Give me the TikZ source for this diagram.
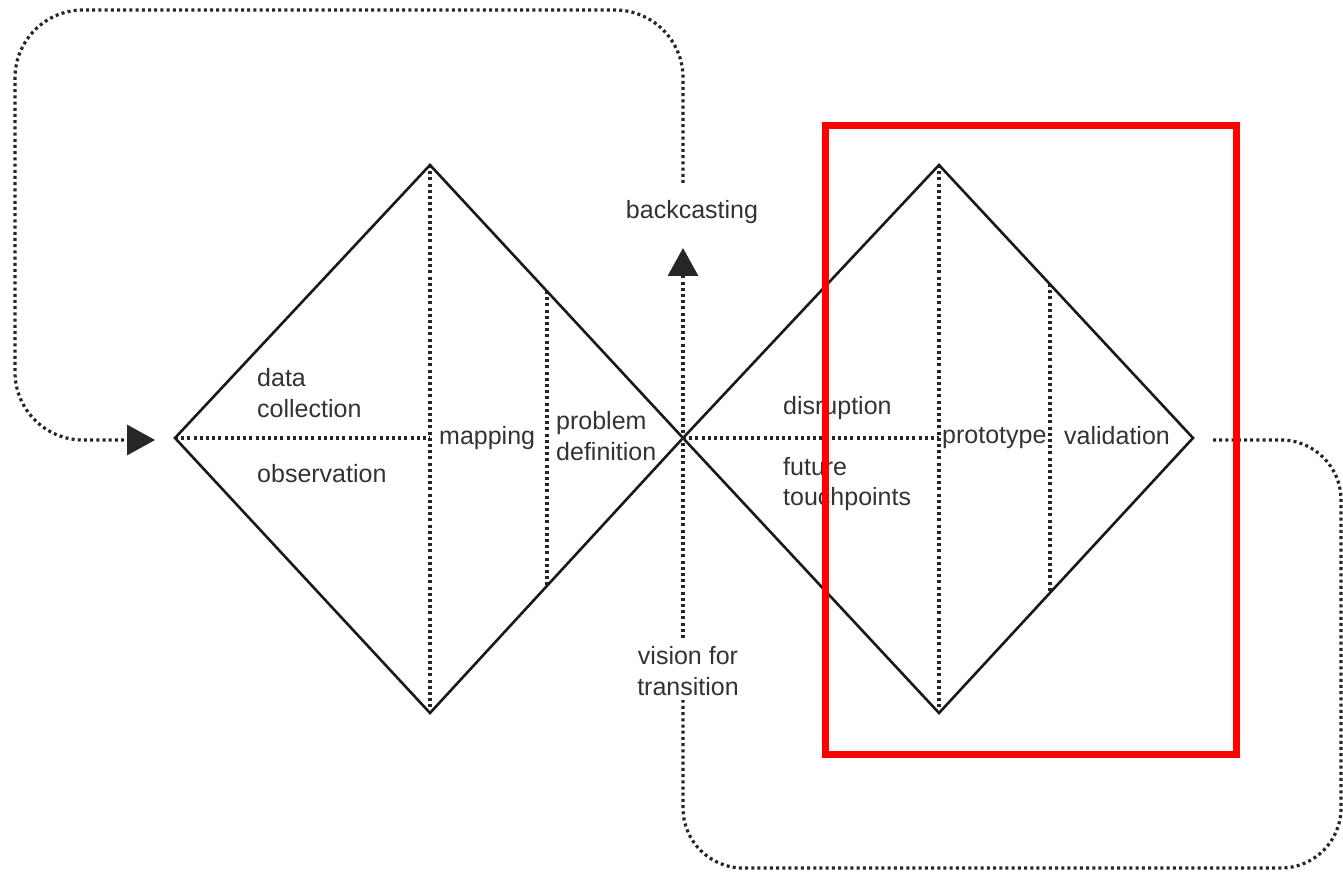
\documentclass[tikz,border=0pt]{standalone}
\usepackage{fontspec}
\setmainfont{Liberation Sans}
\usetikzlibrary{arrows.meta}
\begin{document}
\begin{tikzpicture}[x=1pt,y=-1pt,
  dotline/.style={line width=3.2pt, dash pattern=on 3pt off 3.2pt, draw=black!85},
  diaedge/.style={line width=2.6pt, line join=miter, draw=black!90},
  lbl/.style={inner sep=0pt, font=\fontsize{25}{30.5}\selectfont, text=black!80, align=left},
  arrowhead/.style={-{Triangle[length=28pt,width=30pt]}},
]
\useasboundingbox (0,0) rectangle (1343,874);
\fill[white] (0,0) rectangle (1343,874);

% diamond vertices
\coordinate (Al) at (175,438);
\coordinate (At) at (430,165);
\coordinate (Ab) at (430,713);
\coordinate (C)  at (683,438);
\coordinate (Bt) at (939,165);
\coordinate (Bb) at (939,713);
\coordinate (Br) at (1193,438);

% inner dotted lines
\coordinate (A2t) at (547,291);
\coordinate (A2b) at (547,585);
\coordinate (B2t) at (1050,284);
\coordinate (B2b) at (1050,592);
\coordinate (Am) at (430,438);
\coordinate (Bm) at (939,438);

\draw[dotline] (At) -- (Ab);
\draw[dotline] (A2t) -- (A2b);
\draw[dotline] (Bt) -- (Bb);
\draw[dotline] (B2t) -- (B2b);
\draw[dotline] (Al) -- (Am);
\draw[dotline] (C) -- (Bm);

% diamonds
\draw[diaedge] (Al) -- (At) -- (C) -- (Ab) -- cycle;
\draw[diaedge] (C) -- (Bt) -- (Br) -- (Bb) -- cycle;

% labels
\node[lbl, anchor=west] (dc) at (257,393) {data\\collection};
\node[lbl, anchor=west] (obs) at (257,474) {observation};
\node[lbl, anchor=west] (map) at (439,438) {mapping};
\node[lbl, anchor=west] (pd) at (556,436) {problem\\definition};
\node[lbl, align=center] (bc) at (692,212) {backcasting};
\node[lbl, anchor=west] (dis) at (783,408) {disruption};
\node[lbl, anchor=west] (ft) at (783,484) {future\\touchpoints};
\node[lbl, anchor=west] (proto) at (942,438) {prototype};
\node[lbl, anchor=west] (val) at (1064,436) {validation};
\node[lbl, align=center] (vis) at (688,671) {vision for\\transition};

% central vertical arrow
\coordinate (upTip) at (683,248);
\coordinate (vLow) at (683,638);
\draw[dotline, arrowhead] (vLow) -- (upTip);

% top feedback loop
\coordinate (tStart) at (683,183);
\coordinate (tR) at (683,10);
\coordinate (tL) at (15,10);
\coordinate (bL) at (15,440);
\coordinate (leftTip) at (155,440);
\draw[dotline, arrowhead, rounded corners=68pt] (tStart) -- (tR) -- (tL) -- (bL) -- (leftTip);

% bottom-right loop
\coordinate (rStart) at (1213,440);
\coordinate (rR) at (1341,440);
\coordinate (rB) at (1341,868);
\coordinate (lB) at (683,868);
\coordinate (vTop) at (683,700);
\draw[dotline, rounded corners=60pt] (rStart) -- (rR) -- (rB) -- (lB) -- (vTop);

% highlight box
\draw[red, line width=7pt] (825.5,125.5) rectangle (1236.5,754.5);
\end{tikzpicture}
\end{document}
